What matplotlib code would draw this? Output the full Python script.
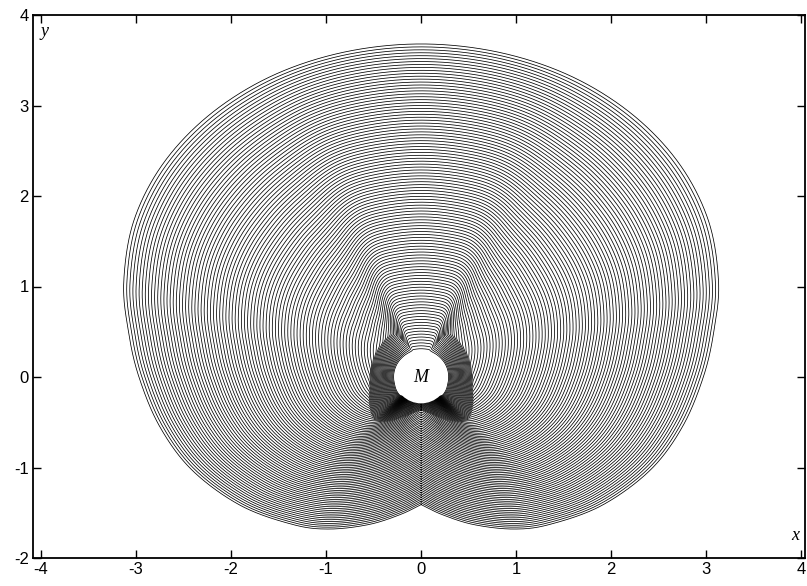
import numpy as np
import matplotlib
matplotlib.use("Agg")
import matplotlib.pyplot as plt
from matplotlib.patches import Ellipse

# ---- data ----
# outermost front, right half (mirrored for the left half), top -> bottom cusp
out_x = [0.0, 0.81, 1.565, 2.213, 2.711, 3.023, 3.13, 3.08, 2.97, 2.75, 2.41, 1.9, 1.35, 0.97, 0.55, 0.22, 0.0]
out_y = [3.68, 3.59, 3.33, 2.91, 2.365, 1.73, 1.05, 0.5, 0.0, -0.55, -1.03, -1.42, -1.63, -1.68, -1.63, -1.52, -1.41]
# per-direction front behaviour near M (polar angle in degrees, right half)
node_theta = [-90, -75, -60, -45, -30, -15, 0, 15, 30, 45, 60, 70, 75, 90]
stall_r0 = [0.20, 0.20, 0.22, 0.30, 0.29, 0.28, 0.28, 0.28, 0.28, 0.28, 0.28, 0.28, 0.28, 0.28]
stall_r1 = [0.36, 0.42, 0.55, 0.70, 0.63, 0.56, 0.54, 0.54, 0.55, 0.56, 0.58, 0.30, 0.28, 0.28]
stall_pow = [3.0, 3.0, 2.5, 1.2, 1.0, 1.0, 1.0, 1.0, 1.0, 1.0, 1.0, 1.0, 1.0, 1.0]
delay = [0.50, 0.48, 0.45, 0.40, 0.33, 0.28, 0.26, 0.24, 0.22, 0.20, 0.16, 0.0, 0.0, 0.0]
n_fronts = 105
x_ticks = [-4, -3, -2, -1, 0, 1, 2, 3, 4]
y_ticks = [-2, -1, 0, 1, 2, 3, 4]
m_radius = 0.28


def catmull_rom(px, py, per_seg=40):
    P = np.column_stack([px, py])
    P = np.vstack([[-P[1, 0], P[1, 1]], P, 2 * P[-1] - P[-2]])
    pts = []
    for i in range(1, len(P) - 2):
        p0, p1, p2, p3 = P[i - 1], P[i], P[i + 1], P[i + 2]
        t = np.linspace(0, 1, per_seg, endpoint=False)[:, None]
        pts.append(0.5 * ((2 * p1) + (-p0 + p2) * t + (2 * p0 - 5 * p1 + 4 * p2 - p3) * t ** 2
                          + (-p0 + 3 * p1 - 3 * p2 + p3) * t ** 3))
    pts.append(P[-2][None, :])
    return np.vstack(pts)


# polar grid, theta from -90 (bottom) counter-clockwise to 270
theta = np.linspace(-90, 270, 2881)
th_r = np.radians(theta)

# outer radius as a function of angle
C = catmull_rom(out_x, out_y)
ang_r = np.degrees(np.arctan2(C[:, 1], C[:, 0]))
rad_r = np.hypot(C[:, 0], C[:, 1])
o = np.argsort(ang_r)
ang_r, rad_r = ang_r[o], rad_r[o]
mirror = np.where(theta <= 90, theta, 180 - theta)
R_out = np.interp(mirror, ang_r, rad_r)


def field(vals, sigma=3.5):
    v = np.interp(mirror, node_theta, vals)
    step = theta[1] - theta[0]
    half = int(4 * sigma / step)
    k = np.exp(-0.5 * (np.arange(-half, half + 1) * step / sigma) ** 2)
    k /= k.sum()
    vp = np.concatenate([v[-half - 1:-1], v, v[1:half + 1]])
    return np.convolve(vp, k, mode="valid")


r0 = field(stall_r0)
r1 = field(stall_r1)
pw = field(stall_pow)
d = field(delay)

plt.rcParams["axes.unicode_minus"] = False
fig = plt.figure(figsize=(8.07, 5.86), dpi=100)
ax = fig.add_axes([33 / 807, 28 / 586, 772 / 807, 543 / 586])

for k in range(1, n_fronts + 1):
    s = k / n_fronts
    slow = r0 + (r1 - r0) * np.clip(s / np.maximum(d, 1e-9), 0, 1) ** pw
    fast = r1 + (R_out - r1) * np.clip((s - d) / (1 - d), 0, 1)
    r = np.where(s < d, slow, fast)
    ax.plot(r * np.cos(th_r), r * np.sin(th_r), color="black", lw=0.55, solid_joinstyle="round")

ax.add_patch(Ellipse((0, 0), 2 * m_radius * 1.0, 2 * m_radius * 1.04, facecolor="white",
                     edgecolor="none", zorder=5))
ax.text(0, -0.01, "M", fontsize=13, fontstyle="italic", family="Liberation Serif",
        ha="center", va="center", zorder=6)

ax.set_xlim(-4.085, 4.04)
ax.set_ylim(-2, 4)
ax.set_xticks(x_ticks)
ax.set_yticks(y_ticks)
ax.tick_params(direction="in", length=6, width=1.0, top=True, right=True,
               labelsize=12, pad=3)
for lab in ax.get_xticklabels() + ax.get_yticklabels():
    lab.set_family("Liberation Sans")
for sp in ax.spines.values():
    sp.set_linewidth(1.3)
ax.text(0.01, 0.985, "y", transform=ax.transAxes, fontsize=13, fontstyle="italic",
        family="Liberation Serif", ha="left", va="top")
ax.text(0.993, 0.025, "x", transform=ax.transAxes, fontsize=13, fontstyle="italic",
        family="Liberation Serif", ha="right", va="bottom")

fig.savefig("out.png", dpi=100)
